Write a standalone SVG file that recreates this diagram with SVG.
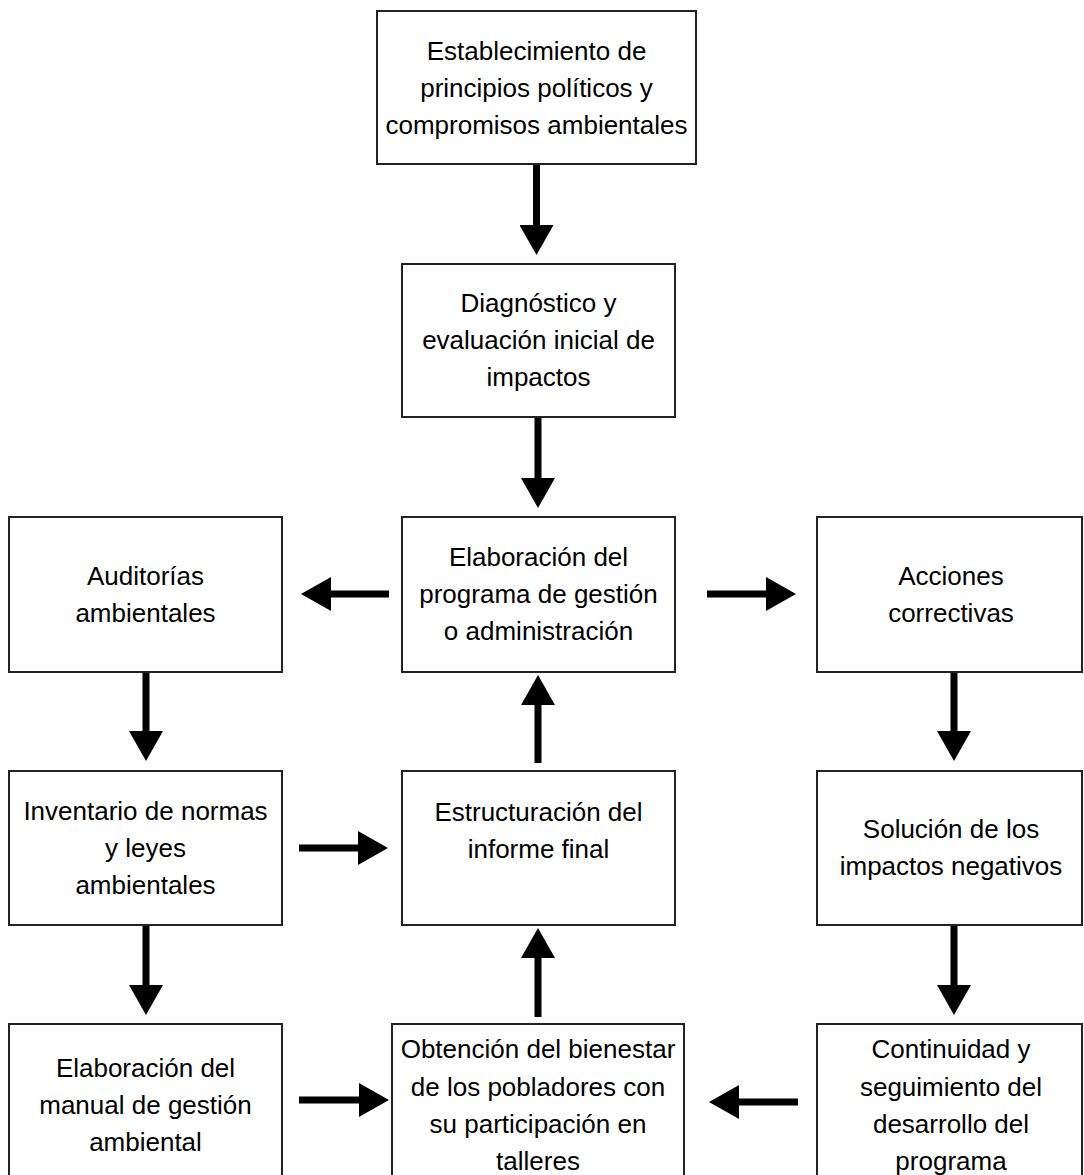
<svg xmlns="http://www.w3.org/2000/svg" width="1084" height="1175" viewBox="0 0 1084 1175">
<defs>
<style>
.box{fill:#fff;stroke:#222;stroke-width:2}
.t{font-family:"Liberation Sans",Arial,sans-serif;font-size:26px;fill:#000;text-anchor:middle}
.c{stroke:#000;stroke-width:7;fill:none;marker-end:url(#ah)}
</style>
<marker id="ah" viewBox="0 -17 30 34" refX="1" refY="0" markerWidth="30" markerHeight="34" markerUnits="userSpaceOnUse" orient="auto">
<path d="M0,-17 L30,0 L0,17 Z" fill="#000"/>
</marker>
</defs>
<rect width="1084" height="1175" fill="#fff"/>

<g id="connectors">
<line class="c" x1="536.5" y1="164" x2="536.5" y2="226"/>
<line class="c" x1="538" y1="417" x2="538" y2="479"/>
<line class="c" x1="389" y1="594" x2="330" y2="594"/>
<line class="c" x1="707" y1="594" x2="767" y2="594"/>
<line class="c" x1="146" y1="672" x2="146" y2="732"/>
<line class="c" x1="954" y1="672" x2="954" y2="732"/>
<line class="c" x1="299" y1="848" x2="359" y2="848"/>
<line class="c" x1="538" y1="763" x2="538" y2="704"/>
<line class="c" x1="146" y1="925" x2="146" y2="986"/>
<line class="c" x1="954" y1="925" x2="954" y2="986"/>
<line class="c" x1="299" y1="1100" x2="360" y2="1100"/>
<line class="c" x1="798" y1="1102" x2="738" y2="1102"/>
<line class="c" x1="538" y1="1017" x2="538" y2="957"/>
</g>

<g id="n1">
<rect class="box" x="377" y="11" width="319" height="153"/>
<text class="t" x="536.5" y="60">Establecimiento de</text>
<text class="t" x="536.5" y="97">principios políticos y</text>
<text class="t" x="536.5" y="134">compromisos ambientales</text>
</g>

<g id="n2">
<rect class="box" x="402" y="264" width="273" height="153"/>
<text class="t" x="538.5" y="312">Diagnóstico y</text>
<text class="t" x="538.5" y="349">evaluación inicial de</text>
<text class="t" x="538.5" y="386">impactos</text>
</g>

<g id="n3">
<rect class="box" x="402" y="517" width="273" height="155"/>
<text class="t" x="538.5" y="566">Elaboración del</text>
<text class="t" x="538.5" y="603">programa de gestión</text>
<text class="t" x="538.5" y="640">o administración</text>
</g>

<g id="n4">
<rect class="box" x="9" y="517" width="273" height="155"/>
<text class="t" x="145.5" y="585">Auditorías</text>
<text class="t" x="145.5" y="622">ambientales</text>
</g>

<g id="n5">
<rect class="box" x="817" y="517" width="265" height="155"/>
<text class="t" x="951" y="585">Acciones</text>
<text class="t" x="951" y="622">correctivas</text>
</g>

<g id="n6">
<rect class="box" x="9" y="771" width="273" height="154"/>
<text class="t" x="145.5" y="820">Inventario de normas</text>
<text class="t" x="145.5" y="857">y leyes</text>
<text class="t" x="145.5" y="894">ambientales</text>
</g>

<g id="n7">
<rect class="box" x="402" y="771" width="273" height="154"/>
<text class="t" x="538.5" y="821">Estructuración del</text>
<text class="t" x="538.5" y="858">informe final</text>
</g>

<g id="n8">
<rect class="box" x="817" y="771" width="265" height="154"/>
<text class="t" x="951" y="838">Solución de los</text>
<text class="t" x="951" y="875">impactos negativos</text>
</g>

<g id="n9">
<rect class="box" x="9" y="1024" width="273" height="160"/>
<text class="t" x="145.5" y="1077">Elaboración del</text>
<text class="t" x="145.5" y="1114">manual de gestión</text>
<text class="t" x="145.5" y="1151">ambiental</text>
</g>

<g id="n10">
<rect class="box" x="392" y="1024" width="292" height="160"/>
<text class="t" x="538" y="1058">Obtención del bienestar</text>
<text class="t" x="538" y="1096">de los pobladores con</text>
<text class="t" x="538" y="1133">su participación en</text>
<text class="t" x="538" y="1170">talleres</text>
</g>

<g id="n11">
<rect class="box" x="817" y="1024" width="265" height="160"/>
<text class="t" x="951" y="1058">Continuidad y</text>
<text class="t" x="951" y="1096">seguimiento del</text>
<text class="t" x="951" y="1133">desarrollo del</text>
<text class="t" x="951" y="1170">programa</text>
</g>
</svg>
